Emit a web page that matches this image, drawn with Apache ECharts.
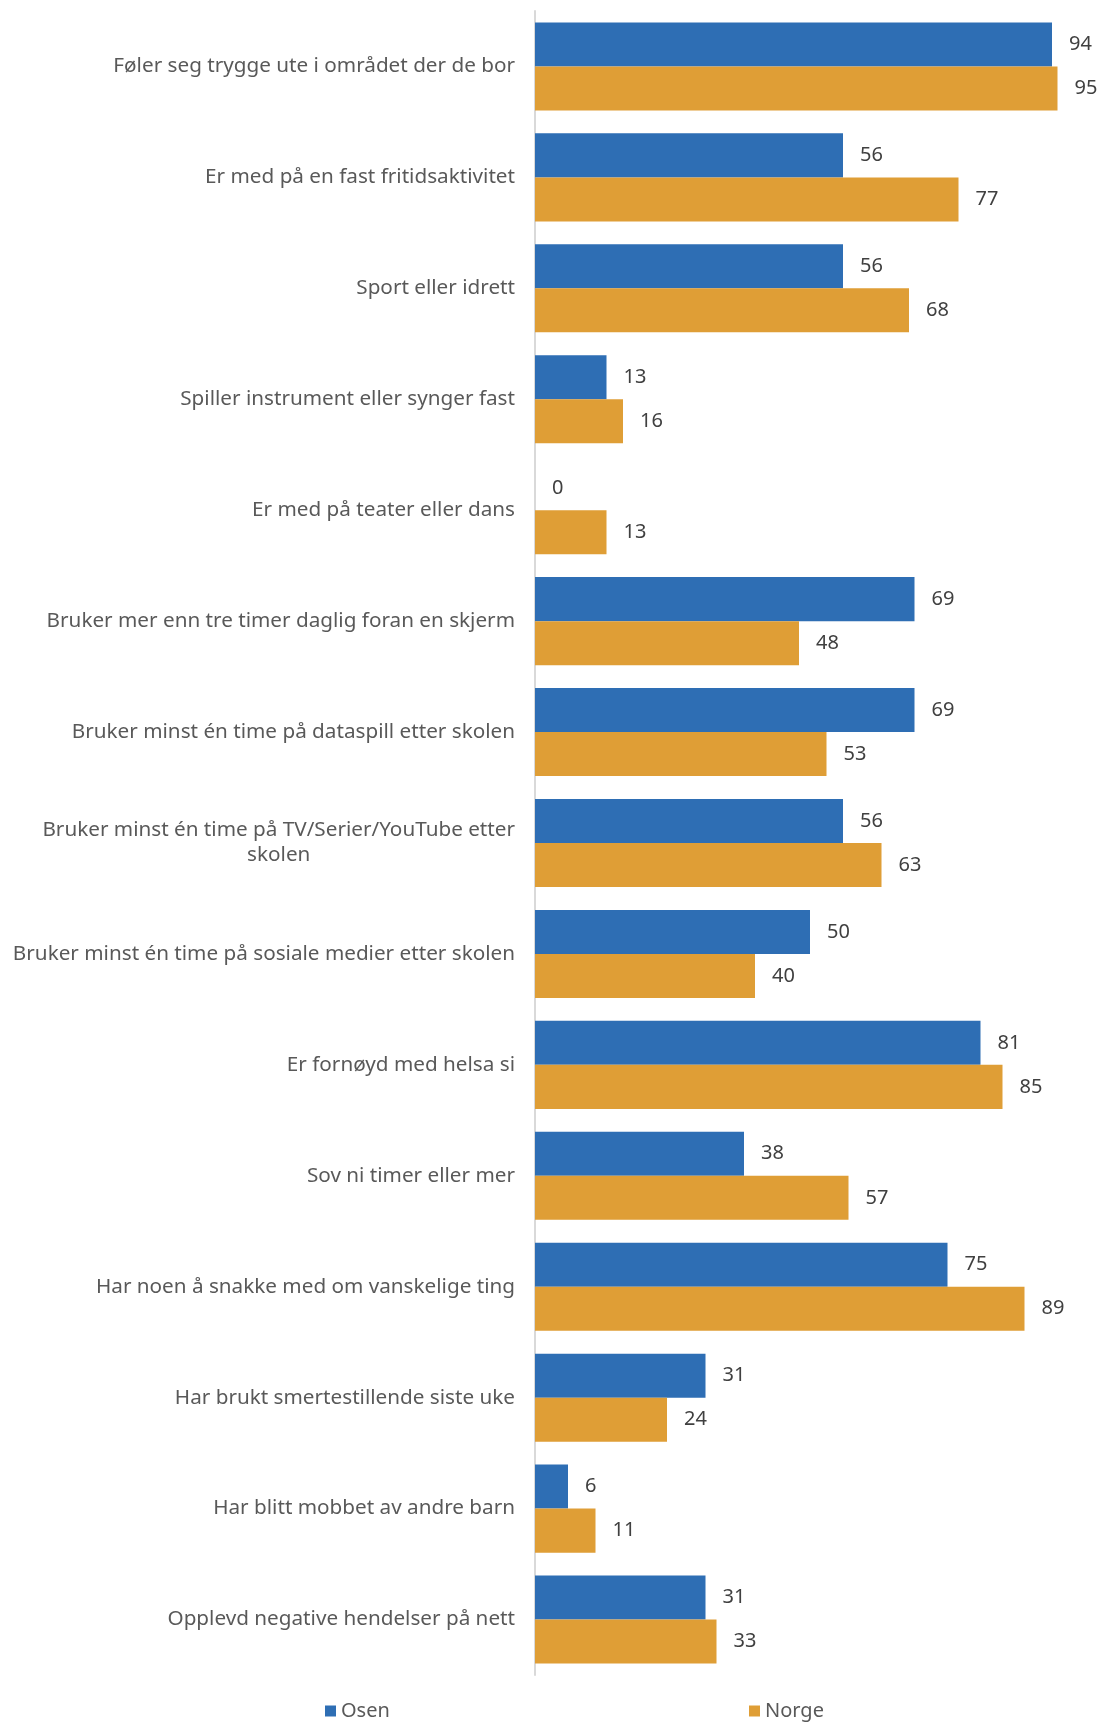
<!DOCTYPE html>
<html>
<head>
<meta charset="utf-8">
<script src="https://cdn.jsdelivr.net/npm/echarts@6/dist/echarts.min.js"></script>
<style>
  html, body { margin: 0; padding: 0; background: #fff; }
  #chart { width: 1106px; height: 1722px; }
</style>
</head>
<body>
<div id="chart"></div>
<script>
const categories = [
  'Føler seg trygge ute i området der de bor',
  'Er med på en fast fritidsaktivitet',
  'Sport eller idrett',
  'Spiller instrument eller synger fast',
  'Er med på teater eller dans',
  'Bruker mer enn tre timer daglig foran en skjerm',
  'Bruker minst én time på dataspill etter skolen',
  'Bruker minst én time på TV/Serier/YouTube etter\nskolen',
  'Bruker minst én time på sosiale medier etter skolen',
  'Er fornøyd med helsa si',
  'Sov ni timer eller mer',
  'Har noen å snakke med om vanskelige ting',
  'Har brukt smertestillende siste uke',
  'Har blitt mobbet av andre barn',
  'Opplevd negative hendelser på nett'
]
const osen = [94, 56, 56, 13, 0, 69, 69, 56, 50, 81, 38, 75, 31, 6, 31]
const norge = [95, 77, 68, 16, 13, 48, 53, 63, 40, 85, 57, 89, 24, 11, 33]

const FONT = 'Noto Sans'
const chart = echarts.init(document.getElementById('chart'))

// etikett med flere linjer: hver linje sentreres
const labelFmt = (v) => v.split('\n').map((l) => `{c|${l}}`).join('\n')

const valueLabel = {
  show: true,
  position: 'right',
  distance: 17,
  fontFamily: FONT,
  fontSize: 20,
  color: '#404040'
}

const legendText = { fontFamily: FONT, fontSize: 20, color: '#595959' }

chart.setOption({
  animation: false,
  grid: { left: 535, right: 21, top: 11, bottom: 47 },
  legend: [
    {
      data: ['Osen'], left: 325, top: 1701, padding: 0,
      itemWidth: 11, itemHeight: 11, itemGap: 0, icon: 'rect',
      textStyle: legendText
    },
    {
      data: ['Norge'], left: 749, top: 1701, padding: 0,
      itemWidth: 11, itemHeight: 11, itemGap: 0, icon: 'rect',
      textStyle: legendText
    }
  ],
  xAxis: {
    type: 'value', min: 0, max: 100,
    axisLine: { show: false }, axisTick: { show: false },
    axisLabel: { show: false }, splitLine: { show: false }
  },
  yAxis: {
    type: 'category',
    inverse: true,
    data: categories,
    axisLine: { show: true, lineStyle: { color: '#d9d9d9', width: 2 } },
    axisTick: { show: false },
    axisLabel: {
      margin: 20,
      formatter: labelFmt,
      rich: {
        c: { fontFamily: FONT, fontSize: 20.7, color: '#595959', align: 'center', lineHeight: 25 }
      }
    }
  },
  series: [
    {
      name: 'Osen', type: 'bar', data: osen,
      barGap: '0%', barCategoryGap: '20.6%',
      itemStyle: { color: '#2E6EB4' },
      label: valueLabel
    },
    {
      name: 'Norge', type: 'bar', data: norge,
      itemStyle: { color: '#DF9E36' },
      label: valueLabel
    }
  ]
})
</script>
</body>
</html>
